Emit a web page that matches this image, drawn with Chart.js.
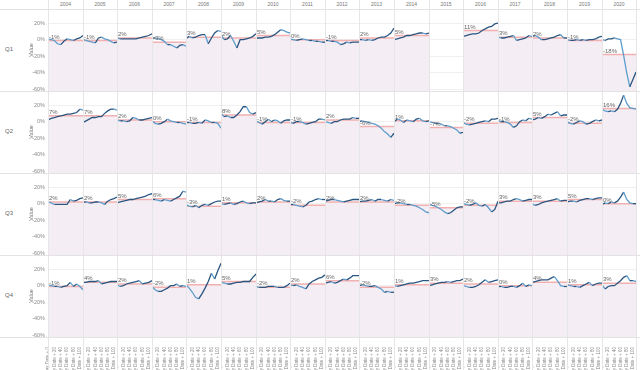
<!DOCTYPE html>
<html>
<head>
<meta charset="utf-8">
<script src="https://cdn.jsdelivr.net/npm/chart.js@4.4.0/dist/chart.umd.min.js"></script>
<style>
body{margin:0;background:#fff;font-family:Arial,"Liberation Sans",sans-serif;}
#wrap{position:relative;width:640px;height:370px;overflow:hidden;}
#wrap canvas{position:absolute;}
.hdr{position:absolute;top:1px;font-size:5px;color:#777;text-align:center;}
.qlbl{position:absolute;left:5px;font-size:6px;color:#666;}
.vline{position:absolute;top:0;width:1px;height:370px;background:#e6e6e6;}
.hline{position:absolute;left:0;width:640px;height:1px;background:#e3e3e3;}
</style>
</head>
<body>
<div id="wrap"></div>
<script>
// Data
const years = [2004,2005,2006,2007,2008,2009,2010,2011,2012,2013,2014,2015,2016,2017,2018,2019,2020];
const quarters = ["Q1","Q2","Q3","Q4"];
const xLabels = ["Pay Date + 0","Pay Date + 10","Pay Date + 20","Pay Date + 30","Pay Date + 40","Pay Date + 50",
                 "Pay Date + 60","Pay Date + 70","Pay Date + 80","Pay Date + 90","Pay Date + 100","Pay Date + 110"];
const yTicks = [-60,-40,-20,0,20];

// average (reference line) per year
const avgQ1 = [-1,-1,2,-3,3,2,5,0,-1,2,5,null,11,3,2,-1,-18];
const avgQ2 = [7,7,2,0,-1,8,-1,-1,2,-6,1,-7,-2,-1,5,-2,16];
const avgQ3 = [2,2,5,6,-3,1,2,-2,2,2,-2,-5,-2,3,3,5,0];
const avgQ4 = [-1,4,2,-2,1,5,-2,2,6,-2,1,3,2,0,4,1,3];

// series values per year
const valuesQ1 = [
  [1,0,-1,-5,-6,-2,1,0,-1,1,2,5],
  [0,-1,-2,-3,-4,2,3,1,0,-2,-4,-3],
  [2,1,1,1,1,1,1,2,3,4,5,7],
  [2,2,1,0,-2,-6,-6,-8,-10,-7,-6,-8],
  [1,4,2,3,5,6,6,-5,2,8,11,10],
  [6,0,1,5,-2,-10,0,0,1,2,4,7],
  [2,2,2,3,3,4,6,9,12,11,9,8],
  [1,0,-1,0,1,0,-1,-1,-2,-2,-3,-3],
  [-1,-1,-2,-2,-3,-6,-5,-3,-4,-3,-3,-3],
  [0,0,-1,0,-1,0,2,3,3,5,8,14],
  [0,1,2,3,5,5,6,7,8,8,7,8],
  [],
  [4,5,6,7,7,8,11,13,15,16,19,20],
  [3,2,2,3,4,5,-1,0,1,2,5,4],
  [4,5,3,0,0,1,2,3,5,6,2,2],
  [0,-1,-1,0,-1,0,-1,0,0,1,3,4],
  [0,-1,1,1,2,1,0,-19,-40,-57,-48,-39]
];
const valuesQ2 = [
  [2,4,5,6,7,8,9,9,10,11,15,14],
  [-1,1,3,5,5,6,6,10,13,15,15,14],
  [2,1,1,0,1,5,4,2,2,3,4,5],
  [1,-2,-3,-2,0,3,1,0,-1,-1,-2,-3],
  [-1,-1,-2,-2,-1,-2,2,1,-1,-1,-2,-8],
  [10,6,7,5,5,8,12,18,18,11,9,11],
  [1,-1,-3,0,3,0,2,1,-2,1,2,2],
  [-1,-2,0,0,-1,-3,-2,-1,0,3,3,2],
  [0,-1,-2,0,0,2,3,3,3,5,4,4],
  [0,1,0,-1,-2,-3,-5,-8,-12,-15,-19,-14],
  [0,3,2,-1,2,1,0,3,4,1,0,1],
  [0,-1,-2,-2,-3,-5,-5,-6,-8,-10,-14,-13],
  [-1,-3,-4,-3,-2,-1,0,1,0,3,3,4],
  [2,0,0,-1,-3,-7,-5,0,2,1,4,3],
  [2,3,5,4,6,9,8,10,12,7,8,8],
  [0,-2,-3,-1,1,0,-3,-2,0,2,1,2],
  [15,13,12,13,12,15,22,32,22,17,16,15]
];
const valuesQ3 = [
  [2,1,-1,-1,-1,-1,-1,5,3,4,6,7],
  [2,2,1,1,2,2,1,-1,3,5,6,8],
  [1,2,3,4,5,5,6,7,8,9,11,12],
  [5,5,4,3,5,4,3,5,7,9,15,14],
  [-1,-3,-4,-2,-5,-2,-1,-2,0,2,3,3],
  [0,-1,0,1,-1,0,2,3,1,0,1,1],
  [1,2,3,5,3,3,2,5,6,4,3,3],
  [-1,-1,-2,-3,-4,-2,2,3,5,6,5,5],
  [3,4,5,5,4,3,2,3,4,5,5,5],
  [2,3,3,4,5,3,5,5,4,3,5,4],
  [0,1,1,0,-1,-1,-2,-3,-5,-7,-10,-11],
  [-1,-2,-3,-5,-7,-10,-12,-11,-8,-5,-4,-4],
  [0,-1,-2,-1,1,-2,-3,-1,-5,-10,-7,3],
  [1,1,2,3,3,5,6,5,3,4,5,5],
  [0,-2,-1,1,2,3,4,5,6,3,4,4],
  [2,3,3,2,4,5,6,6,5,6,7,7],
  [-1,1,0,2,1,3,8,14,5,1,0,0]
];
const valuesQ4 = [
  [1,0,-1,-1,-2,-1,0,4,-1,2,-1,-5],
  [4,4,5,5,5,6,2,3,4,5,5,5],
  [1,-1,0,2,3,4,5,6,2,3,4,6],
  [-1,-5,-7,-7,-5,-3,0,0,2,-1,0,-1],
  [1,-3,-8,-14,-16,-10,-3,5,15,8,18,27],
  [4,3,2,2,3,4,4,5,5,5,10,14],
  [-1,-2,-2,-2,-1,-1,-1,-2,-2,-2,0,3],
  [1,0,1,-1,-2,-4,2,5,7,9,10,13],
  [3,4,5,3,4,6,8,7,9,12,12,12],
  [0,1,0,-1,-1,0,-2,-4,-8,-7,-8,-8],
  [0,-1,0,1,2,3,3,4,5,6,6,6],
  [0,1,2,3,4,4,5,4,5,6,6,8],
  [0,-1,-2,-2,-1,1,4,7,4,5,6,7],
  [-1,-1,-2,-2,-1,-1,-2,0,3,-1,1,0],
  [4,5,6,7,7,7,9,11,6,0,-1,-1],
  [1,0,-1,-1,-2,0,2,4,0,2,3,3],
  [1,-4,-1,0,0,3,6,10,12,6,6,5]
];

const allValues = [valuesQ1, valuesQ2, valuesQ3, valuesQ4];
const allAvg = [avgQ1, avgQ2, avgQ3, avgQ4];

// Layout
const PLOT_LEFT = 48, COL_W = 34.6, ROW_TOP = 9, ROW_H = 82, XAXIS_H = 33;
const AXIS_LEFT = 28;
const Y_MIN = -62, Y_MAX = 37;
const colX = c => Math.round(PLOT_LEFT + c * COL_W);

const wrap = document.getElementById("wrap");

// reference label plugin
const avgLabel = {
    id: 'avgLabel',
    afterDatasetsDraw(chart, args, opts) {
        if (opts.value == null) return;
        const {ctx, chartArea, scales} = chart;
        const py = scales.y.getPixelForValue(opts.value);
        ctx.save();
        ctx.font = '6px Arial, "Liberation Sans", sans-serif';
        ctx.fillStyle = '#666';
        ctx.textBaseline = 'bottom';
        ctx.fillText(opts.value + '%', chartArea.left + 1, py - 0.5);
        ctx.restore();
    }
};

quarters.forEach((q, r) => {
    years.forEach((yr, c) => {
        const first = c === 0;
        const last = r === quarters.length - 1;
        const left = first ? AXIS_LEFT : colX(c);
        const w = colX(c + 1) - left;
        const h = ROW_H + (last ? XAXIS_H : 0);
        const top = ROW_TOP + r * ROW_H;

        const cv = document.createElement("canvas");
        cv.width = w; cv.height = h;
        cv.style.left = left + "px"; cv.style.top = top + "px";
        cv.style.width = w + "px"; cv.style.height = h + "px";
        wrap.appendChild(cv);

        const vals = allValues[r][c];
        const avg = allAvg[r][c];

        new Chart(cv, {
            type: 'line',
            data: {
                labels: xLabels,
                datasets: [{
                    data: vals,
                    borderColor: '#2b5680',
                    borderWidth: 1.3,
                    pointRadius: 0,
                    tension: 0,
                    fill: false,
                    segment: {
                        borderColor: s => s.p1.parsed.y < s.p0.parsed.y ? '#5f9dcc' : '#2b5680'
                    }
                }, {
                    data: avg == null ? [] : xLabels.map(() => avg),
                    borderColor: '#f2b1b1',
                    borderWidth: 1.5,
                    backgroundColor: '#f4edf4',
                    pointRadius: 0,
                    fill: 'start'
                }]
            },
            options: {
                responsive: false,
                animation: false,
                events: [],
                layout: { padding: 0, autoPadding: false },
                plugins: {
                    legend: { display: false },
                    tooltip: { enabled: false },
                    avgLabel: { value: avg }
                },
                scales: {
                    x: {
                        display: last,
                        offset: false,
                        grid: { display: false },
                        border: { display: false },
                        afterFit: s => {
                            s.height = last ? XAXIS_H : 0;
                            s.paddingLeft = 0; s.paddingRight = 0;
                        },
                        ticks: {
                            autoSkip: false,
                            maxRotation: 90,
                            minRotation: 90,
                            padding: 2,
                            color: '#8a8a8a',
                            font: { size: 4.5 },
                            callback: (v, i) => i % 2 === 0 ? xLabels[i] : ''
                        }
                    },
                    y: {
                        display: true,
                        min: Y_MIN,
                        max: Y_MAX,
                        afterBuildTicks: s => { s.ticks = yTicks.map(v => ({ value: v })); },
                        afterFit: s => {
                            s.width = first ? PLOT_LEFT - AXIS_LEFT : 0;
                            s.paddingTop = 0; s.paddingBottom = 0;
                        },
                        grid: { color: '#f0f0f0', drawTicks: false },
                        border: { display: false },
                        ticks: {
                            display: first,
                            padding: 3,
                            color: '#8a8a8a',
                            font: { size: 5.5 },
                            callback: v => v + '%'
                        },
                        title: {
                            display: first,
                            text: 'Value',
                            color: '#777',
                            padding: 0,
                            font: { size: 5.5 }
                        }
                    }
                }
            },
            plugins: [avgLabel]
        });
    });

    const ql = document.createElement("div");
    ql.className = "qlbl";
    ql.style.top = (ROW_TOP + r * ROW_H + ROW_H / 2 - 4) + "px";
    ql.textContent = q;
    wrap.appendChild(ql);
});

// year headers
years.forEach((yr, c) => {
    const d = document.createElement("div");
    d.className = "hdr";
    d.style.left = colX(c) + "px";
    d.style.width = (colX(c + 1) - colX(c)) + "px";
    d.textContent = yr;
    wrap.appendChild(d);
});

// panel separators
for (let c = 0; c <= years.length; c++) {
    const d = document.createElement("div");
    d.className = "vline";
    d.style.left = colX(c) + "px";
    wrap.appendChild(d);
}
for (let r = 0; r <= quarters.length; r++) {
    const d = document.createElement("div");
    d.className = "hline";
    d.style.top = (ROW_TOP + r * ROW_H) + "px";
    wrap.appendChild(d);
}
</script>
</body>
</html>
